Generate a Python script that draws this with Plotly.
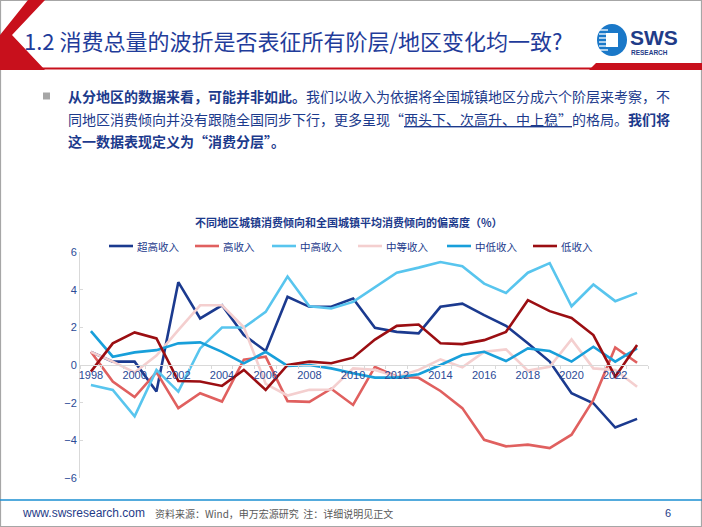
import plotly.graph_objects as go

# ---------------- data ----------------
years = list(range(1998, 2024))
series_names = ["超高收入", "高收入", "中高收入", "中等收入", "中低收入", "低收入"]
super_high = [0.70, 0.18, 0.18, -1.41, 4.40, 2.47, 3.17, 1.59, 0.74, 3.62, 3.09, 3.09, 3.53,
              1.97, 1.76, 1.68, 3.09, 3.26, 2.65, 2.08, 1.15, 0.18, -1.50, -2.03, -3.32, -2.86]
high = [0.70, -0.88, -1.70, -0.38, -2.29, -1.50, -1.94, 0.28, 0.44, -1.92, -1.96, -1.26, -2.12,
        -0.10, -0.62, -0.68, -1.38, -2.29, -3.97, -4.32, -4.23, -4.41, -3.70, -1.85, 0.93, 0.12]
upper_mid = [-1.06, -1.32, -2.73, -0.26, -1.41, 0.88, 1.99, 1.99, 2.82, 4.70, 3.12, 3.00, 3.35,
             4.14, 4.90, 5.17, 5.47, 5.24, 4.32, 3.83, 4.90, 5.41, 3.12, 4.27, 3.39, 3.83]
middle = [0.70, 0.18, -0.40, 0.50, 1.85, 3.17, 3.17, 2.00, -1.00, -1.62, -1.32, -1.30, -0.18,
          -0.26, -0.62, -0.26, 0.30, -0.12, 0.70, 0.83, -0.30, -0.09, 1.36, -0.18, -0.26, -1.15]
mid_low = [1.80, 0.44, 0.67, 0.79, 1.15, 1.20, 0.70, 0.09, 0.70, -0.05, 0.00, -0.18, -0.44,
           -0.67, -0.67, -0.49, 0.00, 0.53, 0.70, 0.21, 0.88, 0.74, 0.18, 0.97, 0.18, 0.88]
low = [-0.35, 1.15, 1.73, 1.41, -0.85, -0.88, -1.11, -0.26, -1.32, 0.00, 0.18, 0.09, 0.39,
       1.35, 2.08, 2.15, 1.15, 1.11, 1.32, 1.76, 3.44, 2.86, 2.50, 1.59, -0.62, 1.06]
x_tick_vals = list(range(1998, 2024, 2))
x_tick_text = [str(v) for v in x_tick_vals]
y_tick_vals = [6, 4, 2, 0, -2, -4, -6]

colors = ["#1B3A8F", "#E0605F", "#58C5EE", "#F4CFCF", "#189FDA", "#9B0E12"]
all_series = [super_high, high, upper_mid, middle, mid_low, low]

# ---------------- layout geometry ----------------
W, H = 702, 527
L, R, T, B = 80, 648, 252, 478


def px(x):
    return (x - L) / (R - L)


def py(y):
    return (B - y) / (B - T)


NAVY = "#1C3A8C"
CJK = "Noto Sans CJK SC, Liberation Sans, sans-serif"
LAT = "Liberation Sans, Noto Sans CJK SC, sans-serif"

fig = go.Figure()
for name, vals, col in zip(series_names, all_series, colors):
    fig.add_trace(go.Scatter(x=years, y=vals, mode="lines", name=name,
                             line=dict(color=col, width=2.6), showlegend=False))

shapes = []
# slide border
shapes.append(dict(type="rect", xref="paper", yref="paper", x0=px(0.5), x1=px(701.5),
                   y0=py(526.5), y1=py(0.5), line=dict(color="#A6A6A6", width=1.2)))
# header red chevron
path = "M {},{} L {},{} L {},{} L {},{} L {},{} L {},{} Z".format(
    px(28), py(0), px(45), py(0), px(12), py(35), px(45), py(70), px(0), py(70), px(0), py(35))
shapes.append(dict(type="path", xref="paper", yref="paper", path=path,
                   fillcolor="#C8101C", line=dict(width=0)))
# header red line
shapes.append(dict(type="line", xref="paper", yref="paper", x0=px(40), x1=px(702),
                   y0=py(68.5), y1=py(68.5), line=dict(color="#C8101C", width=2)))
# thicker right bar
path2 = "M {},{} L {},{} L {},{} L {},{} Z".format(
    px(596), py(63), px(702), py(63), px(702), py(70), px(589), py(70))
shapes.append(dict(type="path", xref="paper", yref="paper", path=path2,
                   fillcolor="#C8101C", line=dict(width=0)))
# logo circle
shapes.append(dict(type="circle", xref="paper", yref="paper", x0=px(597), x1=px(627),
                   y0=py(56), y1=py(24), fillcolor="#1A78C8", line=dict(width=0)))
shapes.append(dict(type="rect", xref="paper", yref="paper", x0=px(606), x1=px(618),
                   y0=py(47), y1=py(33), fillcolor="white", line=dict(width=0)))
for yy in [30, 34, 38, 42, 46, 50]:
    shapes.append(dict(type="line", xref="paper", yref="paper", x0=px(599), x1=px(608),
                       y0=py(yy), y1=py(yy), line=dict(color="white", width=1.3)))
# bullet square
shapes.append(dict(type="rect", xref="paper", yref="paper", x0=px(43), x1=px(50),
                   y0=py(99.5), y1=py(92.5), fillcolor="#A6A6A6", line=dict(width=0)))
# footer blue line
shapes.append(dict(type="line", xref="paper", yref="paper", x0=px(0), x1=px(702),
                   y0=py(500), y1=py(500), line=dict(color="#1B8FD2", width=1.5)))

ann = []
ann.append(dict(text="1.2 消费总量的波折是否表征所有阶层/地区变化均一致?", x=px(22), y=py(40),
                xref="paper", yref="paper", xanchor="left", yanchor="middle", showarrow=False,
                font=dict(family=CJK, size=22, color="#1F3C9A")))
ann.append(dict(text="<b>SWS</b>", x=px(628), y=py(37), xref="paper", yref="paper",
                xanchor="left", yanchor="middle", showarrow=False,
                font=dict(family=LAT, size=21, color="#1F3C88")))
ann.append(dict(text="<b>RESEARCH</b>", x=px(629), y=py(52), xref="paper", yref="paper",
                xanchor="left", yanchor="middle", showarrow=False,
                font=dict(family=LAT, size=6.5, color="#1F3C88")))

body = [
    "<b>从分地区的数据来看，可能并非如此。</b>我们以收入为依据将全国城镇地区分成六个阶层来考察，不",
    "同地区消费倾向并没有跟随全国同步下行，更多呈现“<span style='text-decoration:underline'>两头下、次高升、中上稳”</span>的格局。<b>我们将</b>",
    "<b>这一数据表现定义为“消费分层”。</b>",
]
for i, line in enumerate(body):
    ann.append(dict(text=line, x=px(66), y=py(96 + 22.5 * i), xref="paper", yref="paper",
                    xanchor="left", yanchor="middle", showarrow=False,
                    font=dict(family=CJK, size=14, color=NAVY)))

ann.append(dict(text="<b>不同地区城镇消费倾向和全国城镇平均消费倾向的偏离度（%）</b>", x=px(349), y=py(222),
                xref="paper", yref="paper", xanchor="center", yanchor="middle", showarrow=False,
                font=dict(family=CJK, size=11, color=NAVY)))

# legend (drawn manually to match the original spacing)
legend_line_x = [109, 195, 272, 358, 447, 533]
legend_y = 246
for name, col, lx in zip(series_names, colors, legend_line_x):
    shapes.append(dict(type="line", xref="paper", yref="paper", x0=px(lx), x1=px(lx + 24),
                       y0=py(legend_y), y1=py(legend_y), line=dict(color=col, width=2.6)))
    ann.append(dict(text=name, x=px(lx + 26), y=py(legend_y), xref="paper", yref="paper",
                    xanchor="left", yanchor="middle", showarrow=False,
                    font=dict(family=CJK, size=10.5, color=NAVY)))

ann.append(dict(text="www.swsresearch.com", x=px(20), y=py(513), xref="paper", yref="paper",
                xanchor="left", yanchor="middle", showarrow=False,
                font=dict(family=LAT, size=12, color="#1F3C88")))
ann.append(dict(text="资料来源：Wind，申万宏源研究  注：详细说明见正文", x=px(153), y=py(513),
                xref="paper", yref="paper", xanchor="left", yanchor="middle", showarrow=False,
                font=dict(family=CJK, size=10, color="#595959")))
ann.append(dict(text="6", x=px(668), y=py(513), xref="paper", yref="paper",
                xanchor="center", yanchor="middle", showarrow=False,
                font=dict(family=LAT, size=11, color="#1F3C88")))

fig.update_layout(
    width=W, height=H, autosize=False,
    margin=dict(l=L, r=W - R, t=T, b=H - B, pad=0),
    paper_bgcolor="white", plot_bgcolor="white",
    font=dict(family=LAT, size=11, color=NAVY),
    showlegend=False,
    xaxis=dict(range=[1997.5, 2023.5], tickmode="array", tickvals=x_tick_vals,
               ticktext=x_tick_text, showgrid=False, zeroline=False, showline=True,
               linecolor="#D9D9D9", linewidth=1, anchor="free", position=0.5,
               ticks="", tickfont=dict(family=LAT, size=11, color="#2B4A96"),
               minor=dict(ticks="outside", tick0=1997.5, dtick=1, ticklen=3,
                          tickcolor="#D9D9D9", showgrid=False)),
    yaxis=dict(range=[-6, 6], tickmode="array", tickvals=y_tick_vals,
               showgrid=False, zeroline=False, showline=True, linecolor="#D9D9D9",
               linewidth=1, ticks="inside", ticklen=3, tickcolor="#D9D9D9",
               tickfont=dict(family=LAT, size=11, color="#2B4A96")),
    shapes=shapes,
    annotations=ann,
)

fig.write_html("out.html", config={"displayModeBar": False},
               post_script="document.body.style.margin='0';")
